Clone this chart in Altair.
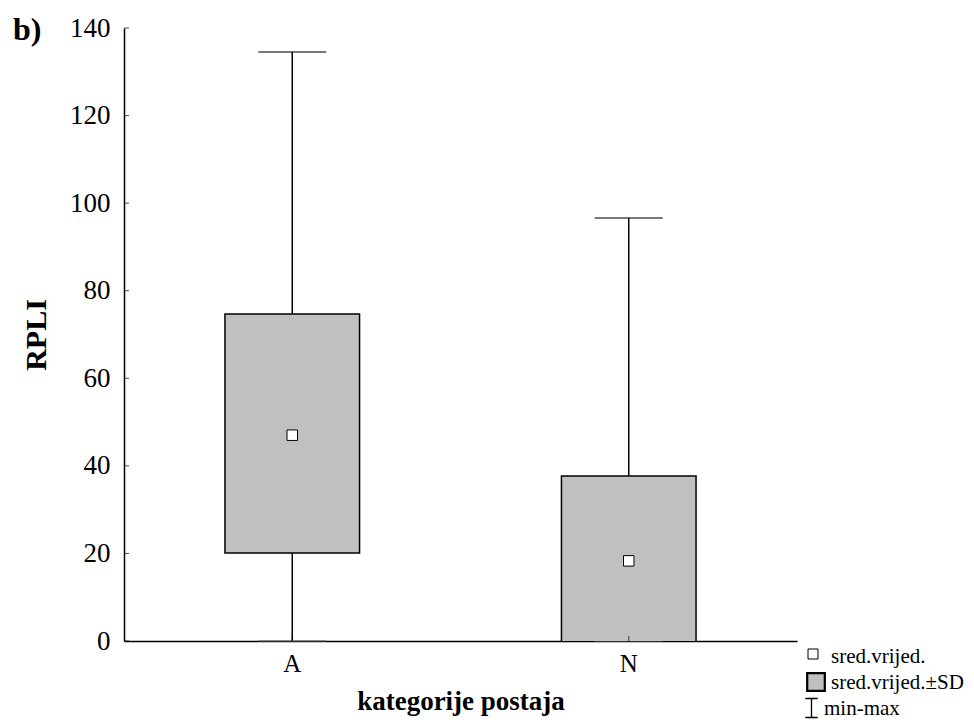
import altair as alt
import pandas as pd

# ---- data ----
categories = ["A", "N"]
mean_vals = [47.0, 18.3]
sd_low = [20.1, -1.1]      # mean - SD
sd_high = [74.7, 37.7]     # mean + SD
min_vals = [0.0, 0.0]
max_vals = [134.5, 96.6]
y_ticks = [0, 20, 40, 60, 80, 100, 120, 140]

legend_labels = ["sred.vrijed.", "sred.vrijed.\u00b1SD", "min-max"]
panel_label = ["b)"]

df = pd.DataFrame({
    "cat": categories,
    "mean": mean_vals,
    "lo": sd_low,
    "hi": sd_high,
    "mn": min_vals,
    "mx": max_vals,
})

FONT = "Liberation Serif"

x_scale = alt.Scale(domain=categories, paddingInner=0, paddingOuter=0)
y_scale = alt.Scale(domain=[0, 140], nice=False, zero=False)


def X():
    return alt.X("cat:N", sort=categories, scale=x_scale,
                 axis=alt.Axis(title="kategorije postaja", labelAngle=0))


def Y(field):
    return alt.Y(field, scale=y_scale, axis=alt.Axis(title="RPLI", values=y_ticks))


base = alt.Chart(df)

whisker = base.mark_rule(color="black", strokeWidth=1.5).encode(
    x=X(), y=Y("mn:Q"), y2="mx:Q")
caps_max = base.mark_tick(color="black", thickness=1.5, size=68, orient="horizontal").encode(
    x=X(), y=Y("mx:Q"))
caps_min = base.mark_tick(color="#555555", thickness=1.5, size=68, orient="horizontal").encode(
    x=X(), y=Y("mn:Q"))
box = base.mark_bar(width={"band": 0.4}, fill="#c0c0c0", stroke="black",
                    strokeWidth=1.5, clip=True).encode(
    x=X(), y=Y("lo:Q"), y2="hi:Q")
mean_pt = base.mark_point(shape="square", size=110, filled=True, fill="white",
                          stroke="black", strokeWidth=1, opacity=1).encode(
    x=X(), y=Y("mean:Q"))

# small inward ticks on both axes
ytick_df = pd.DataFrame({"v": y_ticks})
yticks = alt.Chart(ytick_df).mark_tick(color="black", thickness=1, size=5,
                                       orient="horizontal").encode(
    y=Y("v:Q"), x=alt.value(2.5))
xticks = base.mark_tick(color="black", thickness=1, size=5, orient="vertical").encode(
    x=X(), y=alt.value(610.5))

# legend (drawn as a key beside the plot)
leg_sq = pd.DataFrame({"t": [legend_labels[0]]})
leg_box = pd.DataFrame({"t": [legend_labels[1]]})
leg_mm = pd.DataFrame({"t": [legend_labels[2]]})
key1 = alt.Chart(leg_sq).mark_point(shape="square", size=100, filled=True, fill="white",
                                     stroke="black", strokeWidth=1, opacity=1).encode(
    x=alt.value(689), y=alt.value(626))
key2 = alt.Chart(leg_box).mark_point(shape="square", size=310, filled=True, fill="#c0c0c0",
                                      stroke="black", strokeWidth=2.2, opacity=1).encode(
    x=alt.value(692), y=alt.value(654))
key3 = alt.Chart(leg_mm).mark_point(shape="M-0.65,-1H0.65M0,-1V1M-0.65,1H0.65", size=360,
                                     filled=False, stroke="black", strokeWidth=1.3,
                                     opacity=1).encode(
    x=alt.value(687.5), y=alt.value(680))
txt_kw = dict(font=FONT, fontSize=21, color="black", align="left", baseline="alphabetic")
lab1 = alt.Chart(leg_sq).mark_text(**txt_kw).encode(text="t:N", x=alt.value(707), y=alt.value(635))
lab2 = alt.Chart(leg_box).mark_text(**txt_kw).encode(text="t:N", x=alt.value(707), y=alt.value(661))
lab3 = alt.Chart(leg_mm).mark_text(**txt_kw).encode(text="t:N", x=alt.value(700), y=alt.value(687))

label_df = pd.DataFrame({"t": panel_label})
label_layer = alt.Chart(label_df).mark_text(
    font=FONT, fontSize=32, fontWeight="bold", color="black", align="left",
    baseline="alphabetic").encode(
    text="t:N", x=alt.value(-111), y=alt.value(12))

chart = alt.layer(whisker, caps_max, caps_min, box, mean_pt, yticks, xticks,
                  key1, key2, key3, lab1, lab2, lab3, label_layer).properties(
    width=673, height=613,
    autosize=alt.AutoSizeParams(type="none"),
    padding={"left": 116, "top": 20, "right": 169, "bottom": 79},
).configure_view(stroke=None).configure_axis(
    grid=False, ticks=False, domainColor="black", domainWidth=1.5,
    labelFont=FONT, labelColor="black", titleFont=FONT, titleColor="black",
    titleFontWeight="bold",
).configure_axisX(
    labelFontSize=25, labelPadding=10, titleFontSize=27, titlePadding=12,
).configure_axisY(
    labelFontSize=27, labelPadding=14, titleFontSize=30, titlePadding=18,
)

chart.save("out.html", embed_options={"renderer": "svg", "actions": False})
